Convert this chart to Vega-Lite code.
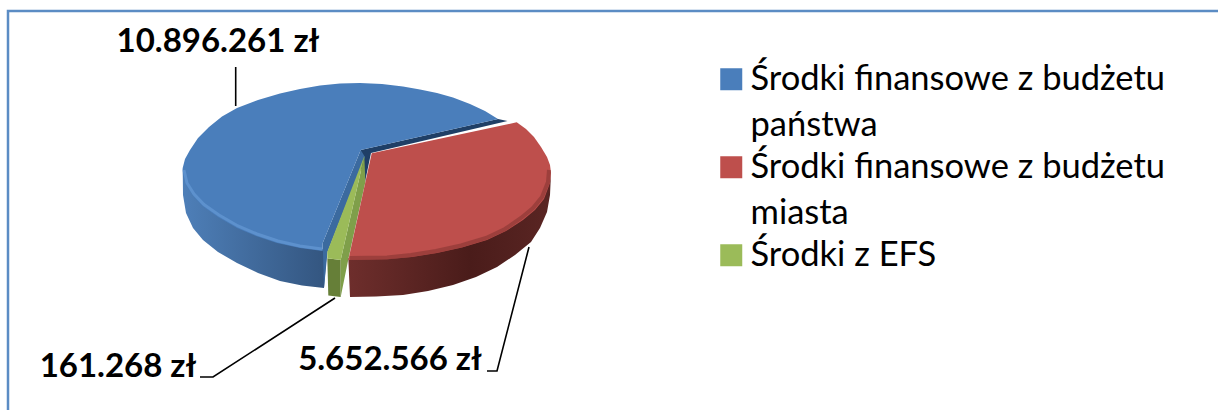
{"$schema":"https://vega.github.io/schema/vega-lite/v6.json","width":1218,"height":410,"padding":0,"autosize":{"type":"none"},"background":"white","view":{"stroke":null},
"encoding":{"x":{"field":"x","type":"quantitative","scale":{"domain":[0,1218],"range":[0,1218],"nice":false,"zero":false},"axis":null},"y":{"field":"y","type":"quantitative","scale":{"domain":[0,410],"range":[0,410],"nice":false,"zero":false},"axis":null}},
"datasets":{
"slices":[{"series":"Środki finansowe z budżetu państwa","value":10896261,"label":"10.896.261 zł","x":218,"y":42},{"series":"Środki finansowe z budżetu miasta","value":5652566,"label":"5.652.566 zł","x":390,"y":360},{"series":"Środki z EFS","value":161268,"label":"161.268 zł","x":118,"y":367}],
"faces":[
{"face":"blueSide","o":1,"x":182.7,"y":168},{"face":"blueSide","o":2,"x":183,"y":195},{"face":"blueSide","o":3,"x":186,"y":213},{"face":"blueSide","o":4,"x":193,"y":228},{"face":"blueSide","o":5,"x":203,"y":240},{"face":"blueSide","o":6,"x":218,"y":252},{"face":"blueSide","o":7,"x":237,"y":263},{"face":"blueSide","o":8,"x":258,"y":273},{"face":"blueSide","o":9,"x":280,"y":281},{"face":"blueSide","o":10,"x":302,"y":285.5},{"face":"blueSide","o":11,"x":324,"y":288},{"face":"blueSide","o":12,"x":327,"y":250},{"face":"blueSide","o":13,"x":300,"y":246},{"face":"blueSide","o":14,"x":277,"y":241},{"face":"blueSide","o":15,"x":256,"y":234},{"face":"blueSide","o":16,"x":237,"y":226},{"face":"blueSide","o":17,"x":218,"y":215},{"face":"blueSide","o":18,"x":203,"y":204},{"face":"blueSide","o":19,"x":193,"y":194},{"face":"blueSide","o":20,"x":186,"y":183},
{"face":"redSide","o":1,"x":551,"y":173},{"face":"redSide","o":2,"x":550,"y":195},{"face":"redSide","o":3,"x":547,"y":212},{"face":"redSide","o":4,"x":540,"y":228},{"face":"redSide","o":5,"x":531,"y":242},{"face":"redSide","o":6,"x":515,"y":255},{"face":"redSide","o":7,"x":497,"y":267},{"face":"redSide","o":8,"x":476,"y":277},{"face":"redSide","o":9,"x":453,"y":285},{"face":"redSide","o":10,"x":428,"y":291},{"face":"redSide","o":11,"x":403,"y":295},{"face":"redSide","o":12,"x":376,"y":296.5},{"face":"redSide","o":13,"x":350,"y":297},{"face":"redSide","o":14,"x":348.3,"y":258},{"face":"redSide","o":15,"x":387,"y":257},{"face":"redSide","o":16,"x":412,"y":255},{"face":"redSide","o":17,"x":437,"y":251},{"face":"redSide","o":18,"x":462,"y":245},{"face":"redSide","o":19,"x":487,"y":238},{"face":"redSide","o":20,"x":506,"y":229},{"face":"redSide","o":21,"x":523,"y":218},{"face":"redSide","o":22,"x":535,"y":208},{"face":"redSide","o":23,"x":544,"y":197},{"face":"redSide","o":24,"x":550,"y":181},
{"face":"darkWall","o":1,"x":360.7,"y":150},{"face":"darkWall","o":2,"x":498,"y":119},{"face":"darkWall","o":3,"x":507.5,"y":121},{"face":"darkWall","o":4,"x":371,"y":153},{"face":"darkWall","o":5,"x":365,"y":182},{"face":"darkWall","o":6,"x":360,"y":165},
{"face":"blueWall","o":1,"x":360.7,"y":150},{"face":"blueWall","o":2,"x":365,"y":157},{"face":"blueWall","o":3,"x":327.5,"y":252},{"face":"blueWall","o":4,"x":324,"y":288},{"face":"blueWall","o":5,"x":322.7,"y":243},
{"face":"greenFront","o":1,"x":327.3,"y":258.3},{"face":"greenFront","o":2,"x":340.7,"y":260},{"face":"greenFront","o":3,"x":340.7,"y":297},{"face":"greenFront","o":4,"x":328.3,"y":295.5},
{"face":"greenWall","o":1,"x":364.3,"y":156},{"face":"greenWall","o":2,"x":340.7,"y":260},{"face":"greenWall","o":3,"x":340.7,"y":297},{"face":"greenWall","o":4,"x":349,"y":256},{"face":"greenWall","o":5,"x":358,"y":215},{"face":"greenWall","o":6,"x":365.4,"y":182}
],
"tops":[
{"series":"Środki finansowe z budżetu państwa","o":1,"x":360.7,"y":150},{"series":"Środki finansowe z budżetu państwa","o":2,"x":498,"y":119},{"series":"Środki finansowe z budżetu państwa","o":3,"x":485,"y":111},{"series":"Środki finansowe z budżetu państwa","o":4,"x":470,"y":104},{"series":"Środki finansowe z budżetu państwa","o":5,"x":453,"y":97.5},{"series":"Środki finansowe z budżetu państwa","o":6,"x":437,"y":93},{"series":"Środki finansowe z budżetu państwa","o":7,"x":420,"y":89.5},{"series":"Środki finansowe z budżetu państwa","o":8,"x":403,"y":86.5},{"series":"Środki finansowe z budżetu państwa","o":9,"x":382,"y":84},{"series":"Środki finansowe z budżetu państwa","o":10,"x":360,"y":83},{"series":"Środki finansowe z budżetu państwa","o":11,"x":340,"y":83.5},{"series":"Środki finansowe z budżetu państwa","o":12,"x":320,"y":85.5},{"series":"Środki finansowe z budżetu państwa","o":13,"x":300,"y":89},{"series":"Środki finansowe z budżetu państwa","o":14,"x":280,"y":93.5},{"series":"Środki finansowe z budżetu państwa","o":15,"x":258,"y":100},{"series":"Środki finansowe z budżetu państwa","o":16,"x":237,"y":108},{"series":"Środki finansowe z budżetu państwa","o":17,"x":222,"y":116.5},{"series":"Środki finansowe z budżetu państwa","o":18,"x":209,"y":127},{"series":"Środki finansowe z budżetu państwa","o":19,"x":198,"y":138},{"series":"Środki finansowe z budżetu państwa","o":20,"x":190,"y":150},{"series":"Środki finansowe z budżetu państwa","o":21,"x":185,"y":159},{"series":"Środki finansowe z budżetu państwa","o":22,"x":182.7,"y":168},{"series":"Środki finansowe z budżetu państwa","o":23,"x":183,"y":176},{"series":"Środki finansowe z budżetu państwa","o":24,"x":186,"y":185},{"series":"Środki finansowe z budżetu państwa","o":25,"x":193,"y":196},{"series":"Środki finansowe z budżetu państwa","o":26,"x":203,"y":206.5},{"series":"Środki finansowe z budżetu państwa","o":27,"x":218,"y":217},{"series":"Środki finansowe z budżetu państwa","o":28,"x":237,"y":228},{"series":"Środki finansowe z budżetu państwa","o":29,"x":256,"y":236},{"series":"Środki finansowe z budżetu państwa","o":30,"x":277,"y":243},{"series":"Środki finansowe z budżetu państwa","o":31,"x":300,"y":248},{"series":"Środki finansowe z budżetu państwa","o":32,"x":322.7,"y":251},{"series":"Środki finansowe z budżetu państwa","o":33,"x":322.7,"y":243},
{"series":"Środki finansowe z budżetu miasta","o":1,"x":371.7,"y":153.3},{"series":"Środki finansowe z budżetu miasta","o":2,"x":516.7,"y":122.3},{"series":"Środki finansowe z budżetu miasta","o":3,"x":526,"y":129},{"series":"Środki finansowe z budżetu miasta","o":4,"x":534,"y":137},{"series":"Środki finansowe z budżetu miasta","o":5,"x":541,"y":147},{"series":"Środki finansowe z budżetu miasta","o":6,"x":547,"y":157},{"series":"Środki finansowe z budżetu miasta","o":7,"x":550,"y":165},{"series":"Środki finansowe z budżetu miasta","o":8,"x":551,"y":173},{"series":"Środki finansowe z budżetu miasta","o":9,"x":550,"y":183},{"series":"Środki finansowe z budżetu miasta","o":10,"x":544,"y":199},{"series":"Środki finansowe z budżetu miasta","o":11,"x":535,"y":210},{"series":"Środki finansowe z budżetu miasta","o":12,"x":523,"y":220},{"series":"Środki finansowe z budżetu miasta","o":13,"x":506,"y":231},{"series":"Środki finansowe z budżetu miasta","o":14,"x":487,"y":240},{"series":"Środki finansowe z budżetu miasta","o":15,"x":462,"y":247.5},{"series":"Środki finansowe z budżetu miasta","o":16,"x":437,"y":253},{"series":"Środki finansowe z budżetu miasta","o":17,"x":412,"y":257},{"series":"Środki finansowe z budżetu miasta","o":18,"x":387,"y":259.3},{"series":"Środki finansowe z budżetu miasta","o":19,"x":348.3,"y":260},
{"series":"Środki z EFS","o":1,"x":364.3,"y":156},{"series":"Środki z EFS","o":2,"x":327.3,"y":251.7},{"series":"Środki z EFS","o":3,"x":327.3,"y":258.3},{"series":"Środki z EFS","o":4,"x":340.7,"y":260}
],
"rims":[
{"id":"blue","o":1,"x":184,"y":170},{"id":"blue","o":2,"x":187,"y":183},{"id":"blue","o":3,"x":194,"y":194},{"id":"blue","o":4,"x":204,"y":204.5},{"id":"blue","o":5,"x":219,"y":215},{"id":"blue","o":6,"x":238,"y":226},{"id":"blue","o":7,"x":257,"y":234},{"id":"blue","o":8,"x":278,"y":241},{"id":"blue","o":9,"x":300,"y":246},{"id":"blue","o":10,"x":322,"y":249},
{"id":"red","o":1,"x":549,"y":170},{"id":"red","o":2,"x":548,"y":182},{"id":"red","o":3,"x":542,"y":197},{"id":"red","o":4,"x":533,"y":208},{"id":"red","o":5,"x":521,"y":218},{"id":"red","o":6,"x":505,"y":229},{"id":"red","o":7,"x":486,"y":238},{"id":"red","o":8,"x":461,"y":245.5},{"id":"red","o":9,"x":436,"y":251},{"id":"red","o":10,"x":411,"y":255},{"id":"red","o":11,"x":387,"y":257.5},{"id":"red","o":12,"x":350,"y":258}
],
"leaders":[
{"id":"a","o":1,"x":235.7,"y":67},{"id":"a","o":2,"x":235.7,"y":106},
{"id":"b","o":1,"x":200,"y":377},{"id":"b","o":2,"x":213,"y":377},{"id":"b","o":3,"x":335,"y":298},
{"id":"c","o":1,"x":487,"y":371},{"id":"c","o":2,"x":497,"y":371},{"id":"c","o":3,"x":529,"y":247}
],
"frame":[{"x":8,"x2":1240,"y":11,"y2":440}]
},
"config":{"legend":{"rowPadding":7}},
"layer":[
{"data":{"name":"frame"},"mark":{"type":"rect","fill":null,"stroke":"#5b8cc4","strokeWidth":2.5,"clip":true},"encoding":{"x2":{"field":"x2"},"y2":{"field":"y2"}}},
{"data":{"name":"faces"},"transform":[{"filter":"datum.face==='blueSide'"}],"mark":{"type":"line","filled":true,"fill":{"gradient":"linear","x1":0,"x2":1,"y1":0,"y2":0,"stops":[{"offset":0,"color":"#4e7fb8"},{"offset":1,"color":"#33557f"}]},"stroke":null},"encoding":{"order":{"field":"o"}}},
{"data":{"name":"faces"},"transform":[{"filter":"datum.face==='redSide'"}],"mark":{"type":"line","filled":true,"fill":{"gradient":"linear","x1":0,"x2":1,"y1":0,"y2":0,"stops":[{"offset":0,"color":"#6e2e2c"},{"offset":0.6,"color":"#4a1c1a"},{"offset":1,"color":"#5a2523"}]},"stroke":null},"encoding":{"order":{"field":"o"}}},
{"data":{"name":"faces"},"transform":[{"filter":"datum.face!=='blueSide'&&datum.face!=='redSide'"}],"mark":{"type":"line","filled":true,"stroke":null},"encoding":{"order":{"field":"o"},"fill":{"field":"face","type":"nominal","legend":null,"scale":{"domain":["darkWall","blueWall","greenFront","greenWall"],"range":["#1f3f66","#3b6a9f","#667f38","#7f9f4a"]}}}},
{"data":{"name":"tops"},"mark":{"type":"line","filled":true,"stroke":null},"encoding":{"order":{"field":"o"},"fill":{"field":"series","type":"nominal","scale":{"domain":["Środki finansowe z budżetu państwa","Środki finansowe z budżetu miasta","Środki z EFS"],"range":["#4a7ebb","#be4f4c","#9bbb59"]},"legend":{"orient":"none","legendX":714,"legendY":62,"title":null,"symbolType":"square","symbolSize":484,"symbolStrokeWidth":0,"symbolOpacity":1,"labelFont":"Lato","labelFontSize":34.5,"labelColor":"black","labelLimit":600,"labelOffset":2,"labelBaseline":"top","labelExpr":"datum.label==='Środki z EFS'?datum.label:[slice(datum.label,0,26),slice(datum.label,27)]","encoding":{"labels":{"lineHeight":{"value":46},"dy":{"value":-16}}}}}}},
{"data":{"name":"rims"},"transform":[{"filter":"datum.id==='blue'"}],"mark":{"type":"line","stroke":"#6fa3e0","strokeWidth":3,"opacity":0.5},"encoding":{"order":{"field":"o"}}},
{"data":{"name":"rims"},"transform":[{"filter":"datum.id==='red'"}],"mark":{"type":"line","stroke":"#8e3936","strokeWidth":4,"opacity":0.7},"encoding":{"order":{"field":"o"}}},
{"data":{"name":"leaders"},"mark":{"type":"line","stroke":"black","strokeWidth":1.6},"encoding":{"order":{"field":"o"},"detail":{"field":"id"}}},
{"data":{"name":"slices"},"mark":{"type":"text","font":"Lato","fontWeight":"bold","fontSize":33,"color":"black"},"encoding":{"text":{"field":"label"}}}
],
"resolve":{"scale":{"fill":"independent"}}}
